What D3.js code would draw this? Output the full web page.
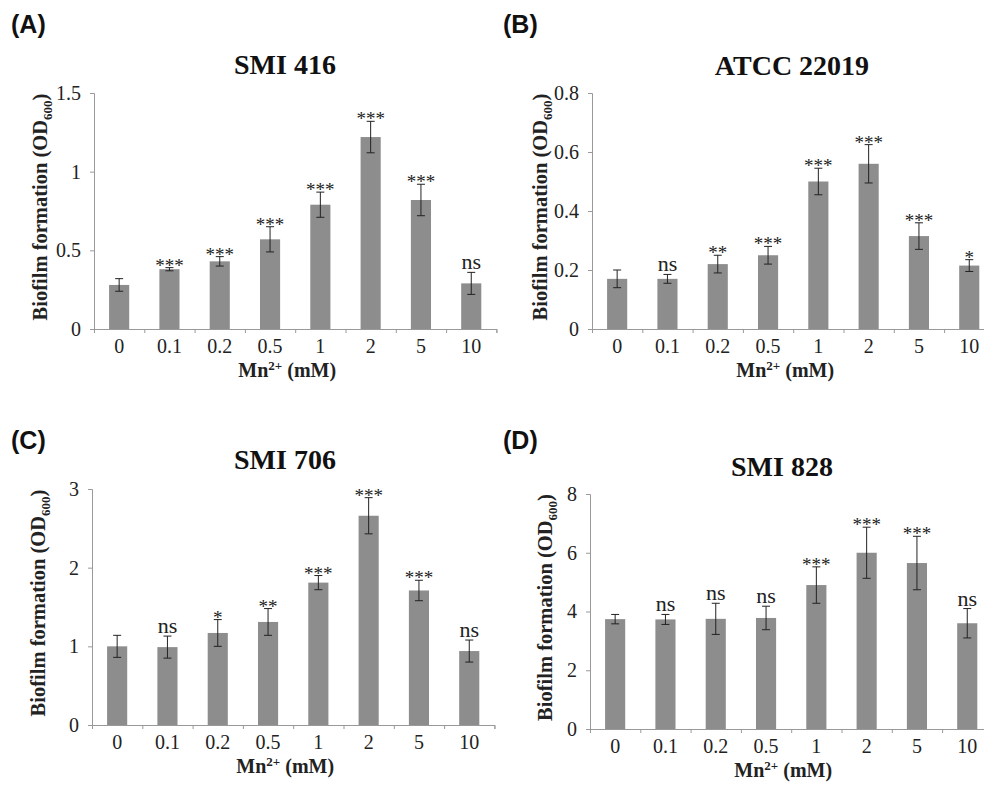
<!DOCTYPE html>
<html>
<head>
<meta charset="utf-8">
<script src="https://cdn.jsdelivr.net/npm/d3@7"></script>
<style>
  body { margin: 0; background: #fff; }
  svg { display: block; }
</style>
</head>
<body>
<div id="plot"></div>
<script>
// Mn2+ concentrations (mM)
var categories = ["0", "0.1", "0.2", "0.5", "1", "2", "5", "10"];

// (A) SMI 416
var valuesA = [0.28, 0.38, 0.43, 0.57, 0.79, 1.22, 0.82, 0.29];
var errorsA = [0.04, 0.01, 0.03, 0.08, 0.08, 0.10, 0.10, 0.07];
var sigA = ["", "***", "***", "***", "***", "***", "***", "ns"];
var ticksA = [0, 0.5, 1, 1.5];

// (B) ATCC 22019
var valuesB = [0.17, 0.17, 0.22, 0.25, 0.50, 0.56, 0.315, 0.215];
var errorsB = [0.03, 0.015, 0.03, 0.03, 0.045, 0.065, 0.045, 0.02];
var sigB = ["", "ns", "**", "***", "***", "***", "***", "*"];
var ticksB = [0, 0.2, 0.4, 0.6, 0.8];

// (C) SMI 706
var valuesC = [1.0, 0.99, 1.17, 1.31, 1.81, 2.66, 1.71, 0.94];
var errorsC = [0.14, 0.14, 0.17, 0.17, 0.09, 0.23, 0.13, 0.14];
var sigC = ["", "ns", "*", "**", "***", "***", "***", "ns"];
var ticksC = [0, 1, 2, 3];

// (D) SMI 828
var valuesD = [3.74, 3.73, 3.75, 3.78, 4.9, 6.0, 5.65, 3.6];
var errorsD = [0.16, 0.17, 0.53, 0.4, 0.62, 0.87, 0.91, 0.5];
var sigD = ["", "ns", "ns", "ns", "***", "***", "***", "ns"];
var ticksD = [0, 2, 4, 6, 8];

var w = 984, h = 792;
var serif = "'Liberation Serif', 'Times New Roman', serif";

var svg = d3.select("#plot").append("svg")
    .attr("width", w)
    .attr("height", h);

// panel placement: left edge of the axis, top and bottom of the plot area
var panels = [
  { tag: "(A)", title: "SMI 416", vals: valuesA, errs: errorsA, sig: sigA, ticks: ticksA,
    x0: 94, top: 93, bottom: 329, tagX: 11, tagY: 33, titleX: 285, titleY: 74, ylabX: 40 },
  { tag: "(B)", title: "ATCC 22019", vals: valuesB, errs: errorsB, sig: sigB, ticks: ticksB,
    x0: 592, top: 93, bottom: 329, tagX: 503, tagY: 33, titleX: 792, titleY: 75, ylabX: 540 },
  { tag: "(C)", title: "SMI 706", vals: valuesC, errs: errorsC, sig: sigC, ticks: ticksC,
    x0: 92, top: 489, bottom: 725, tagX: 11, tagY: 449, titleX: 285, titleY: 469, ylabX: 38 },
  { tag: "(D)", title: "SMI 828", vals: valuesD, errs: errorsD, sig: sigD, ticks: ticksD,
    x0: 590, top: 494, bottom: 729, tagX: 503, tagY: 449, titleX: 782, titleY: 476, ylabX: 545 }
];

var band = 50.3;

panels.forEach(function(p) {
  var g = svg.append("g");
  var xEnd = p.x0 + band * categories.length;

  var x = d3.scaleBand()
      .domain(categories)
      .range([p.x0, xEnd])
      .paddingInner(0.6)
      .paddingOuter(0.3);

  var xEdge = d3.scaleLinear()
      .domain([0, categories.length])
      .range([p.x0, xEnd]);

  var y = d3.scaleLinear()
      .domain([0, d3.max(p.ticks)])
      .range([p.bottom, p.top]);

  // panel tag
  g.append("text")
    .attr("x", p.tagX)
    .attr("y", p.tagY)
    .attr("font-family", "'Liberation Sans', Arial, sans-serif")
    .attr("font-weight", "bold")
    .attr("font-size", 25)
    .attr("fill", "#111")
    .text(p.tag);

  // title
  g.append("text")
    .attr("x", p.titleX)
    .attr("y", p.titleY)
    .attr("text-anchor", "middle")
    .attr("font-family", serif)
    .attr("font-weight", "bold")
    .attr("font-size", 28)
    .attr("fill", "#111")
    .text(p.title);

  // bars
  g.selectAll("rect.bar")
    .data(p.vals)
    .enter()
    .append("rect")
    .attr("class", "bar")
    .attr("x", function(d, i) { return x(categories[i]); })
    .attr("width", x.bandwidth())
    .attr("y", function(d) { return y(d); })
    .attr("height", function(d) { return y(0) - y(d); })
    .attr("fill", "#8d8d8d");

  // error bars
  var eb = g.selectAll("g.err")
    .data(p.vals)
    .enter()
    .append("g")
    .attr("class", "err")
    .attr("stroke", "#222")
    .attr("stroke-width", 1);

  eb.append("line")
    .attr("x1", function(d, i) { return x(categories[i]) + x.bandwidth() / 2; })
    .attr("x2", function(d, i) { return x(categories[i]) + x.bandwidth() / 2; })
    .attr("y1", function(d, i) { return y(d - p.errs[i]); })
    .attr("y2", function(d, i) { return y(d + p.errs[i]); });

  [-1, 1].forEach(function(s) {
    eb.append("line")
      .attr("x1", function(d, i) { return x(categories[i]) + x.bandwidth() / 2 - 4; })
      .attr("x2", function(d, i) { return x(categories[i]) + x.bandwidth() / 2 + 4; })
      .attr("y1", function(d, i) { return y(d + s * p.errs[i]); })
      .attr("y2", function(d, i) { return y(d + s * p.errs[i]); });
  });

  // significance marks
  g.selectAll("text.sig")
    .data(p.vals)
    .enter()
    .append("text")
    .attr("class", "sig")
    .attr("x", function(d, i) { return x(categories[i]) + x.bandwidth() / 2; })
    .attr("y", function(d, i) {
      return y(d + p.errs[i]) + (p.sig[i] === "ns" ? -3 : 4);
    })
    .attr("text-anchor", "middle")
    .attr("font-family", serif)
    .attr("font-size", function(d, i) { return p.sig[i] === "ns" ? 22 : 19; })
    .attr("fill", "#222")
    .text(function(d, i) { return p.sig[i]; });

  // y axis
  var yAxis = d3.axisLeft(y)
      .tickValues(p.ticks)
      .tickSize(4)
      .tickPadding(9)
      .tickFormat(d3.format("~g"));

  var ya = g.append("g")
    .attr("transform", "translate(" + p.x0 + ",0)")
    .call(yAxis);
  ya.select(".domain").attr("stroke", "#999");
  ya.selectAll(".tick line").attr("stroke", "#999");
  ya.selectAll(".tick text")
    .attr("font-family", serif)
    .attr("font-size", 20)
    .attr("fill", "#222");

  // x axis line and boundary ticks
  var xa = g.append("g")
    .attr("transform", "translate(0," + p.bottom + ")")
    .call(d3.axisBottom(xEdge).ticks(categories.length).tickSize(4).tickFormat(""));
  xa.select(".domain").attr("stroke", "#999");
  xa.selectAll(".tick line").attr("stroke", "#999");

  // x category labels
  var xl = g.append("g")
    .attr("transform", "translate(0," + p.bottom + ")")
    .call(d3.axisBottom(x).tickSize(0).tickPadding(10));
  xl.select(".domain").remove();
  xl.selectAll(".tick text")
    .attr("font-family", serif)
    .attr("font-size", 20)
    .attr("fill", "#222");

  // x title
  var xt = g.append("text")
    .attr("x", (p.x0 + xEnd) / 2 - 8)
    .attr("y", p.bottom + 48)
    .attr("text-anchor", "middle")
    .attr("font-family", serif)
    .attr("font-weight", "bold")
    .attr("font-size", 20)
    .attr("fill", "#222");
  xt.append("tspan").text("Mn");
  xt.append("tspan").attr("font-size", 13).attr("dy", -7).text("2+");
  xt.append("tspan").attr("dy", 7).text(" (mM)");

  // y title
  var yt = g.append("text")
    .attr("transform", "translate(" + (p.ylabX + 7) + "," + ((p.top + p.bottom) / 2 - 4) + ") rotate(-90)")
    .attr("text-anchor", "middle")
    .attr("font-family", serif)
    .attr("font-weight", "bold")
    .attr("font-size", 20.5)
    .attr("fill", "#222");
  yt.append("tspan").text("Biofilm formation (OD");
  yt.append("tspan").attr("font-size", 13).attr("dy", 5).text("600");
  yt.append("tspan").attr("dy", -5).text(")");
});
</script>
</body>
</html>
